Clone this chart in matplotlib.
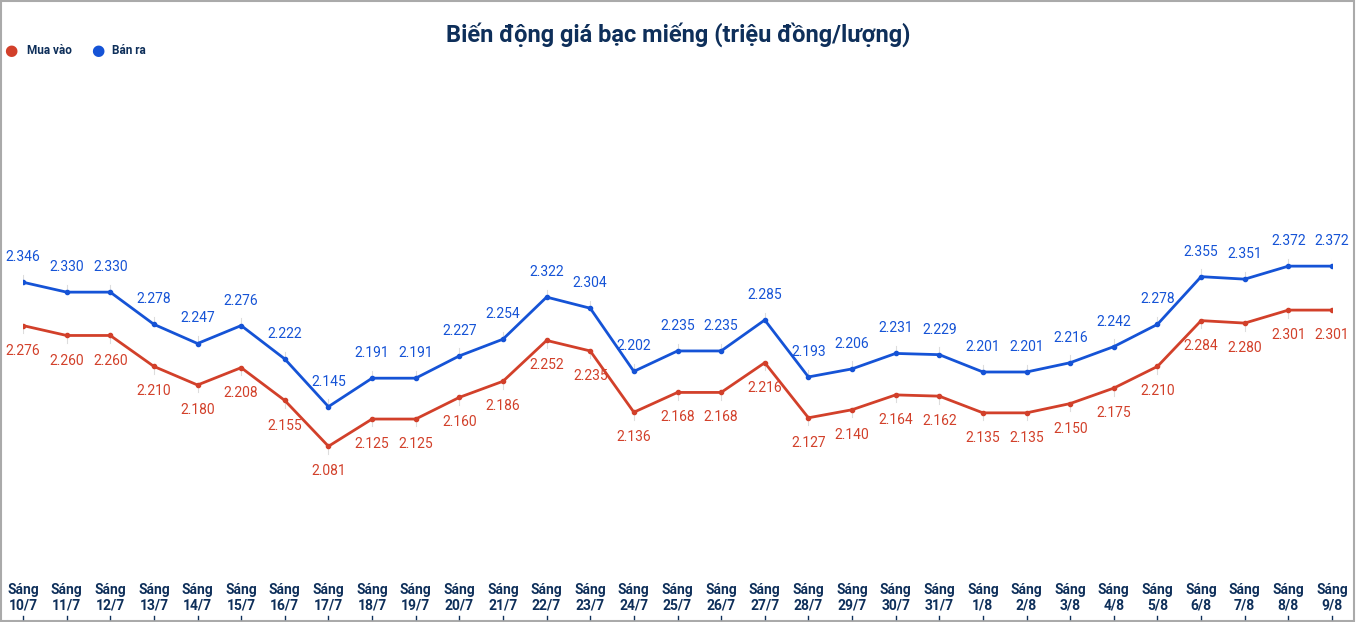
import matplotlib
matplotlib.use("Agg")
import matplotlib.pyplot as plt

dates = ["10/7","11/7","12/7","13/7","14/7","15/7","16/7","17/7","18/7","19/7","20/7","21/7","22/7","23/7","24/7","25/7","26/7","27/7","28/7","29/7","30/7","31/7","1/8","2/8","3/8","4/8","5/8","6/8","7/8","8/8","9/8"]
buy = [2.276,2.260,2.260,2.210,2.180,2.208,2.155,2.081,2.125,2.125,2.160,2.186,2.252,2.235,2.136,2.168,2.168,2.216,2.127,2.140,2.164,2.162,2.135,2.135,2.150,2.175,2.210,2.284,2.280,2.301,2.301]
sell = [2.346,2.330,2.330,2.278,2.247,2.276,2.222,2.145,2.191,2.191,2.227,2.254,2.322,2.304,2.202,2.235,2.235,2.285,2.193,2.206,2.231,2.229,2.201,2.201,2.216,2.242,2.278,2.355,2.351,2.372,2.372]

plt.rcParams['font.family'] = ['Roboto', 'DejaVu Sans']
RED = "#d2402a"; BLUE = "#1553d6"; NAVY = "#0e2f5a"

fig = plt.figure(figsize=(13.56, 6.22), dpi=100)
ax = fig.add_axes([23/1356, 1-580/622, (1332-23)/1356, 520/622])
x = list(range(len(dates)))
ax.plot(x, buy, color=RED, lw=2, marker='o', ms=3)
ax.plot(x, sell, color=BLUE, lw=2, marker='o', ms=3)
for i in x:
    ax.annotate(f"{sell[i]:.3f}", (i, sell[i]), xytext=(0, 13), textcoords='offset points',
                ha='center', va='bottom', color=BLUE, fontsize=10)
    ax.plot([i, i], [sell[i], sell[i] + 0.012], color='#dddddd', lw=0.8, zorder=0)
    ax.annotate(f"{buy[i]:.3f}", (i, buy[i]), xytext=(0, -13), textcoords='offset points',
                ha='center', va='top', color=RED, fontsize=10)
    ax.plot([i, i], [buy[i], buy[i] - 0.012], color='#dddddd', lw=0.8, zorder=0)
ax.set_xlim(0, 30)
ax.set_ylim(1.865, 2.705)
ax.set_yticks([])
ax.set_xticks(x)
ax.set_xticklabels([f"Sáng\n{d}" for d in dates], fontsize=10, fontweight='bold', color=NAVY, linespacing=1.2)
ax.tick_params(axis='x', length=0, pad=2)
for s in ax.spines.values():
    s.set_visible(False)
for i in x:
    fig.lines.append(plt.Line2D([ax.get_position().x0 + i/30*ax.get_position().width]*2, [3/622, 6/622],
                                transform=fig.transFigure, color=NAVY, lw=1))
fig.text(0.5, 1-35/622, "Biến động giá bạc miếng (triệu đồng/lượng)", ha='center', va='center',
         fontsize=17, fontweight='bold', color=NAVY)
fig.text(11/1356, 1-51/622, "●", color=RED, fontsize=11, ha='center', va='center')
fig.text(27/1356, 1-51/622, "Mua vào", color=NAVY, fontsize=8.5, fontweight='bold', va='center')
fig.text(98/1356, 1-51/622, "●", color=BLUE, fontsize=11, ha='center', va='center')
fig.text(112/1356, 1-51/622, "Bán ra", color=NAVY, fontsize=8.5, fontweight='bold', va='center')
fig.patches.append(plt.Rectangle((0.0005, 0.001), 0.998, 0.997, transform=fig.transFigure,
                                 fill=False, ec='#aaaaaa', lw=1.5))
fig.savefig("out.png", dpi=100)
